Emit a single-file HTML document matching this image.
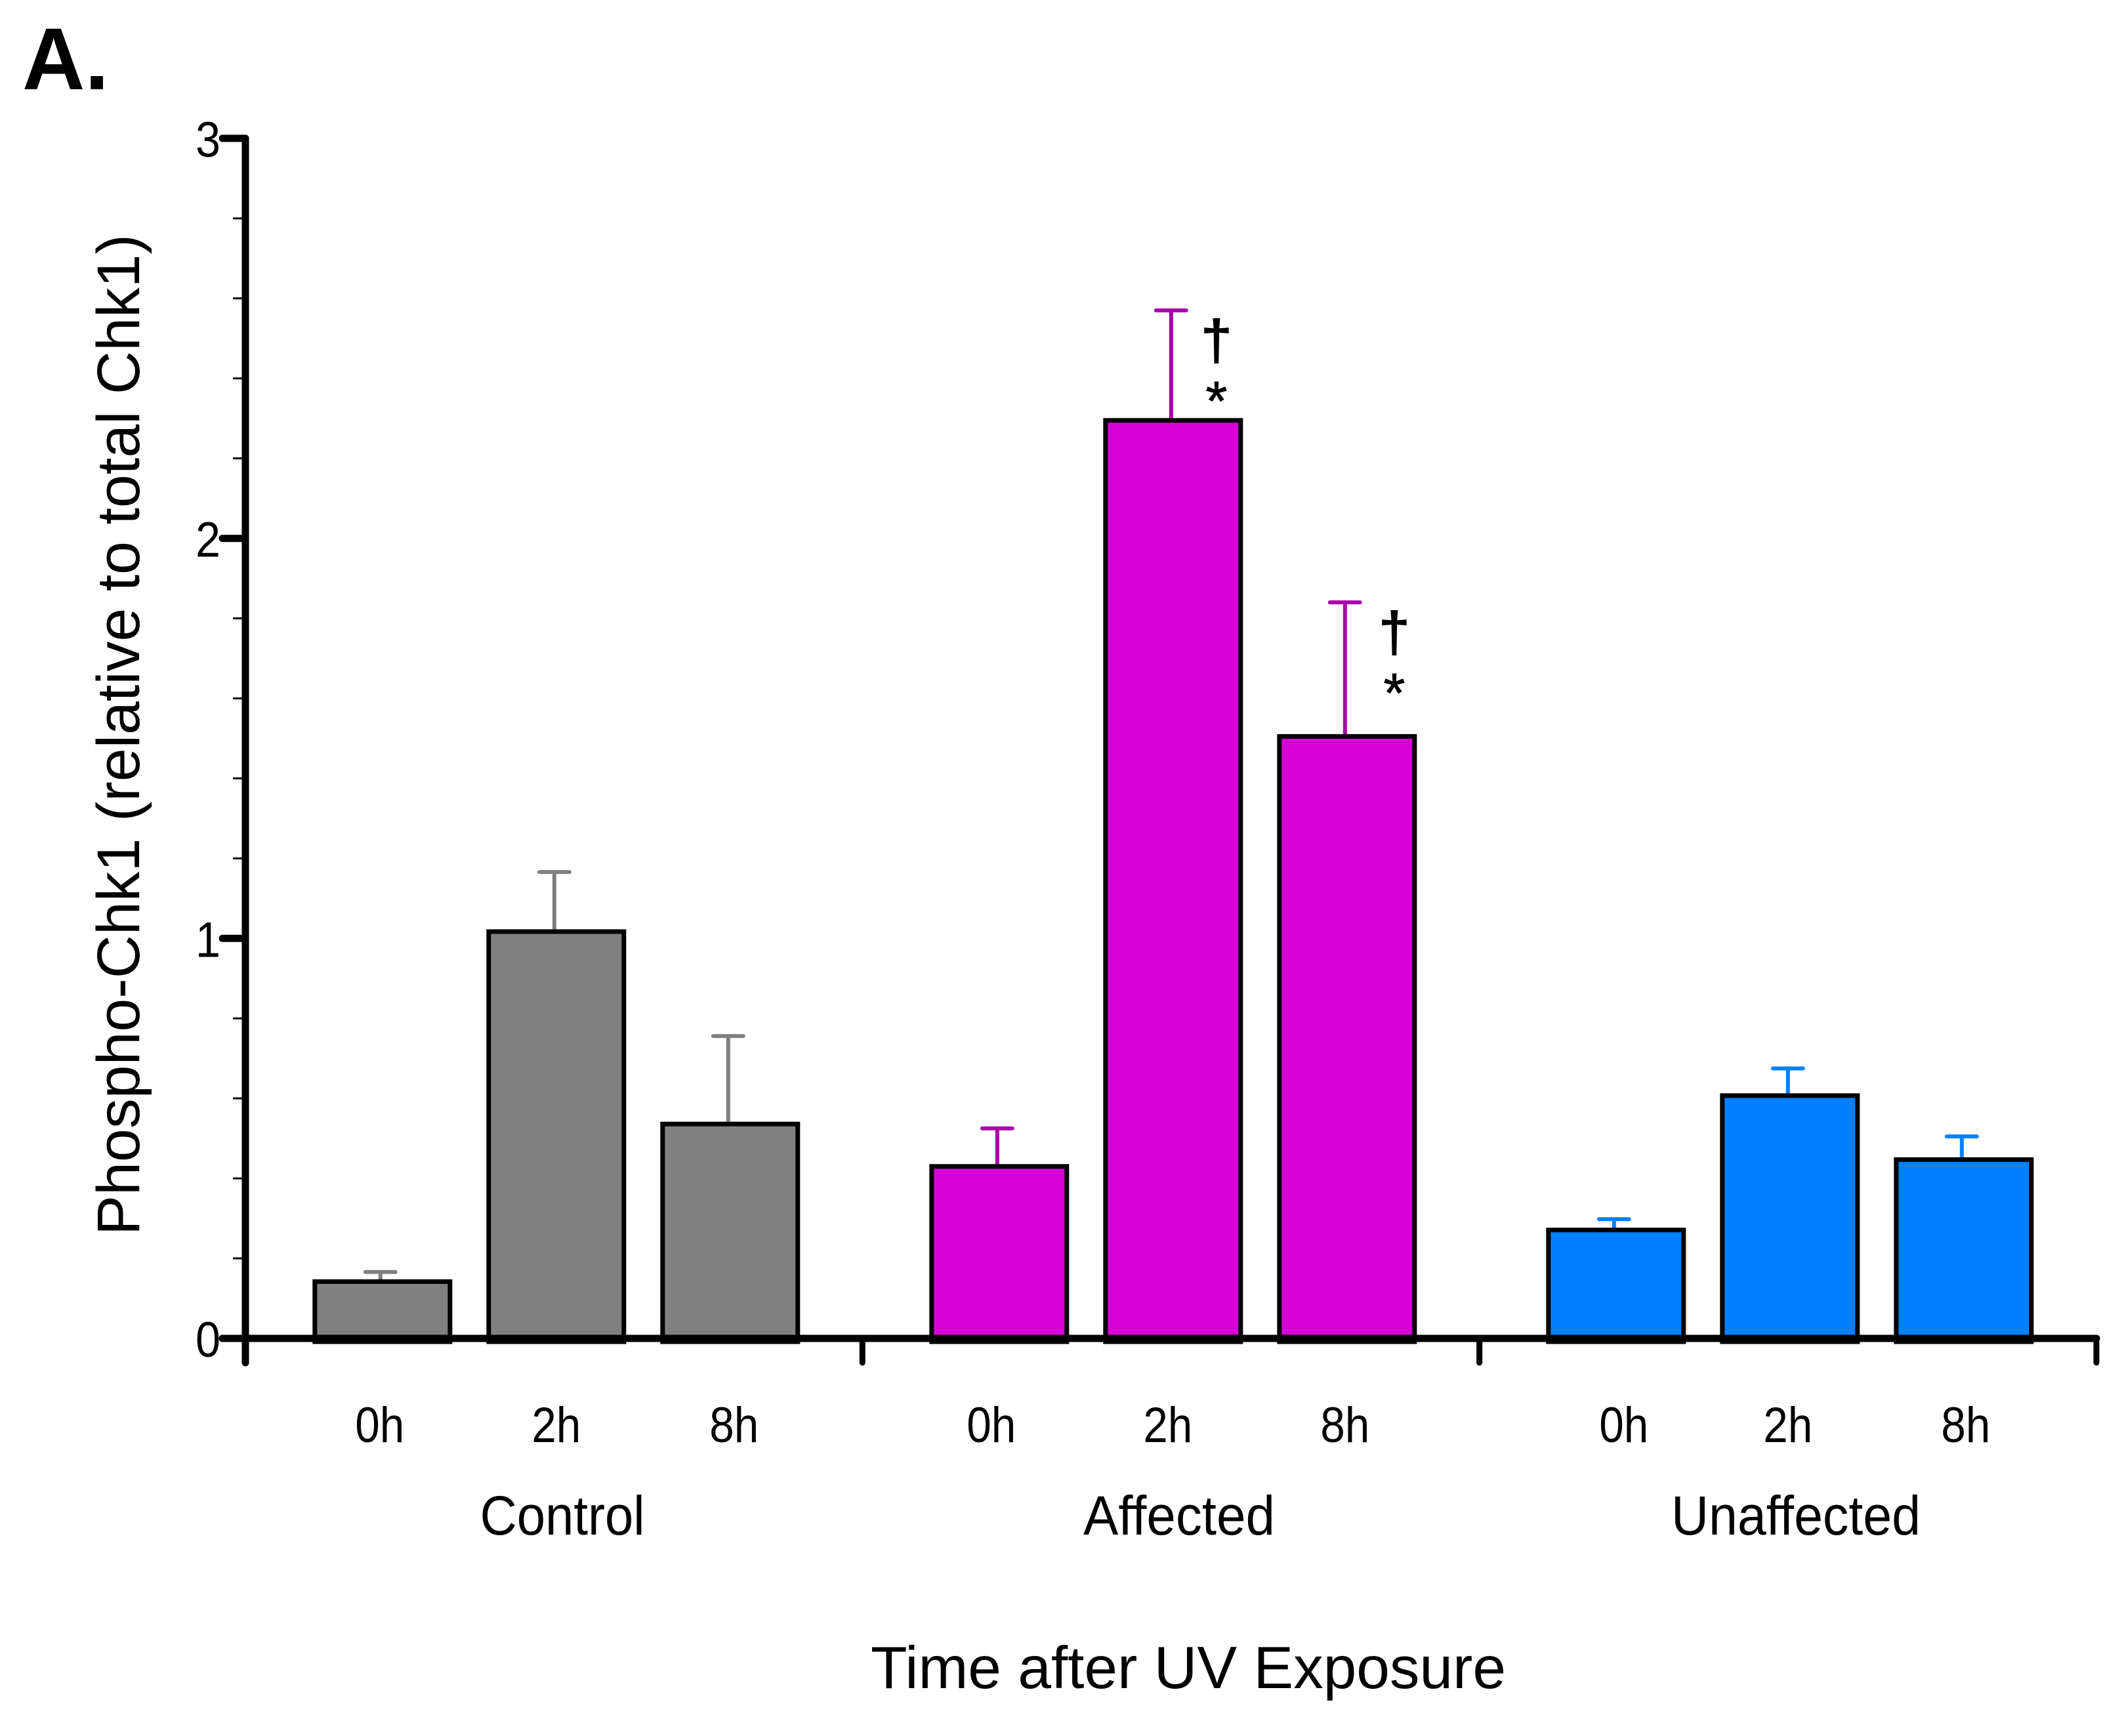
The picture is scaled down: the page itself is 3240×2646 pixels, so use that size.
<!DOCTYPE html>
<html lang="en">
<head>
<meta charset="utf-8">
<title>Phospho-Chk1 after UV exposure</title>
<style>
html,body{margin:0;padding:0;background:#fff;}
svg{display:block;font-family:"Liberation Sans",Arial,sans-serif;fill:#000;}
</style>
</head>
<body>
<svg id="chart" xmlns="http://www.w3.org/2000/svg" width="3240" height="2646" viewBox="0 0 3240 2646">
  <rect x="0" y="0" width="3240" height="2646" fill="#fff"/>
  <text x="34" y="136" font-size="134" font-weight="700" textLength="132" lengthAdjust="spacingAndGlyphs">A.</text>
  <text transform="translate(212,1883) rotate(-90)" font-size="92" textLength="1526" lengthAdjust="spacingAndGlyphs">Phospho-Chk1 (relative to total Chk1)</text>
  <text x="1811" y="2573" font-size="91" text-anchor="middle" textLength="968" lengthAdjust="spacingAndGlyphs">Time after UV Exposure</text>
</svg>
<script>
const groups = ['Control', 'Affected', 'Unaffected'];
const timepoints = ['0h', '2h', '8h'];
const controlMeans = [0.142, 1.017, 0.536];
const affectedMeans = [0.43, 2.295, 1.505];
const unaffectedMeans = [0.271, 0.607, 0.447];
const controlUpper = [0.166, 1.166, 0.756];
const affectedUpper = [0.525, 2.57, 1.84];
const unaffectedUpper = [0.298, 0.675, 0.505];
const yTickLabels = [0, 1, 2, 3];
const significantBars = [[1, 1], [1, 2]];

const svg = document.getElementById('chart');
const NS = 'http://www.w3.org/2000/svg';
const meansByGroup = [controlMeans, affectedMeans, unaffectedMeans];
const upperByGroup = [controlUpper, affectedUpper, unaffectedUpper];
const fills = ['#808080', '#d600d6', '#007fff'];
const errColors = ['#808080', '#a800a8', '#0080ff'];

function yScale(v) { return 2040 - v * 609.7; }
function xScale(g, i) { return 582.8 + g * 940 + i * 265; }

function make(tag, attrs, text) {
  const el = document.createElementNS(NS, tag);
  for (const k in attrs) el.setAttribute(k, attrs[k]);
  if (text !== undefined) el.textContent = text;
  svg.appendChild(el);
  return el;
}

/* bars and error bars */
meansByGroup.forEach(function (means, g) {
  means.forEach(function (m, i) {
    const cx = xScale(g, i);
    const ex = cx - 3;
    const top = yScale(m);
    const up = yScale(upperByGroup[g][i]);
    const stem = make('line', { x1: ex, x2: ex, y1: up, y2: top, stroke: errColors[g], 'stroke-width': 6 });
    
    
    const cap = make('line', { x1: ex - 23, x2: ex + 23, y1: up, y2: up, stroke: errColors[g], 'stroke-width': 6, 'stroke-linecap': 'round' });
    
    
    const bar = make('rect', { x: cx - 103, y: top, width: 206, height: yScale(0) + 5 - top, fill: fills[g], stroke: '#000', 'stroke-width': 7 });
    
    
  });
});

/* y axis */
const yLine = make('line', { x1: 374, x2: 374, y1: yScale(3), y2: 2077, stroke: '#000', 'stroke-width': 11, 'stroke-linecap': 'round' });



yTickLabels.forEach(function (t) {
  const tick = make('line', { x1: 339, x2: 374, y1: yScale(t), y2: yScale(t), stroke: '#000', 'stroke-width': 11, 'stroke-linecap': 'round' });
  
  
  const label = make('text', { x: 336, y: yScale(t) + 28, 'font-size': 76, 'text-anchor': 'end', textLength: 38, lengthAdjust: 'spacingAndGlyphs' }, String(t));
  
  
  if (t < 3) {
    for (let k = 1; k < 5; k++) {
      const v = t + k / 5;
      const minor = make('line', { x1: 355, x2: 374, y1: yScale(v), y2: yScale(v), stroke: '#000', 'stroke-width': 3 });
      
      
    }
  }
});

/* x axis */
const xLine = make('line', { x1: 339, x2: 3195, y1: yScale(0), y2: yScale(0), stroke: '#000', 'stroke-width': 11, 'stroke-linecap': 'round' });



[1, 2, 3].forEach(function (g) {
  const px = 374 + g * 940.3;
  const tick = make('line', { x1: px, x2: px, y1: yScale(0), y2: 2077, stroke: '#000', 'stroke-width': 9, 'stroke-linecap': 'round' });
  
  
});

/* hand-placed label nudges from the original figure (layout only) */
const timeNudge = [[-4, 0, 6], [-12, -8, -3], [12, -3, 3]];
const groupCenterX = [857, 1797, 2737];
const groupWidths = [251, 292, 380];

groups.forEach(function (name, g) {
  timepoints.forEach(function (tp, i) {
    const lab = make('text', { x: xScale(g, i) + timeNudge[g][i], y: 2198, 'font-size': 76, 'text-anchor': 'middle', textLength: 75, lengthAdjust: 'spacingAndGlyphs' }, tp);
    
    
  });
  const glab = make('text', { x: groupCenterX[g], y: 2339, 'font-size': 84, 'text-anchor': 'middle', textLength: groupWidths[g], lengthAdjust: 'spacingAndGlyphs' }, name);
  
  
});

/* significance markers */
const markerOffset = [0, 66, 72];
significantBars.forEach(function (pair) {
  const g = pair[0], i = pair[1];
  const mx = xScale(g, i) + markerOffset[i];
  const baseY = yScale(upperByGroup[g][i]);
  const dag = make('text', { x: mx, y: baseY + 74, 'font-size': 84, 'text-anchor': 'middle', stroke: '#000', 'stroke-width': 2 }, '†');
  
  
  const star = make('text', { x: mx, y: baseY + 167, 'font-size': 84, 'text-anchor': 'middle', stroke: '#000', 'stroke-width': 1 }, '*');
  
  
});
</script>
</body>
</html>
